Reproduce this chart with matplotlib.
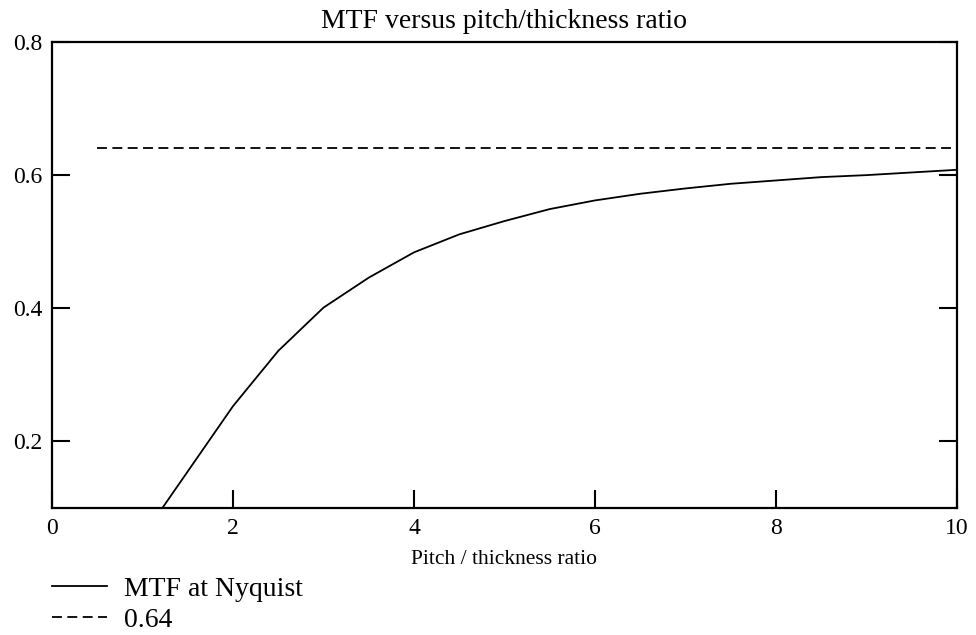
import matplotlib
matplotlib.use("Agg")
import matplotlib.pyplot as plt

plt.rcParams['font.family'] = ['Liberation Serif', 'DejaVu Serif']

# data
ratio = [1.0, 1.5, 2.0, 2.5, 3.0, 3.5, 4.0, 4.5, 5.0, 5.5, 6.0, 6.5, 7.0,
         7.5, 8.0, 8.5, 9.0, 9.5, 10.0]
mtf = [0.057, 0.155, 0.253, 0.336, 0.401, 0.446, 0.484, 0.511, 0.531, 0.549,
       0.562, 0.572, 0.580, 0.587, 0.592, 0.597, 0.600, 0.604, 0.608]
ref_x = [0.5, 10.0]
ref_y = [0.64, 0.64]

fig = plt.figure(figsize=(9.76, 6.35), dpi=100)
ax = fig.add_axes([0.0533, 0.2, 0.9272, 0.7339])

l1, = ax.plot(ratio, mtf, color='black', lw=1.3, label='MTF at Nyquist')
l2, = ax.plot(ref_x, ref_y, color='black', lw=1.3, ls=(0, (5.5, 3)), label='0.64')

ax.set_xlim(0, 10)
ax.set_ylim(0.1, 0.8)
ax.set_xticks([0, 2, 4, 6, 8, 10])
ax.set_yticks([0.2, 0.4, 0.6, 0.8])
ax.set_xticklabels(['0', '2', '4', '6', '8', '10'])
ax.set_yticklabels(['0.2', '0.4', '0.6', '0.8'])
ax.tick_params(direction='in', length=13, width=1.5, labelsize=17,
               right=True, top=False, pad=7)
for s in ax.spines.values():
    s.set_linewidth(1.6)

ax.set_title('MTF versus pitch/thickness ratio', fontsize=20, pad=10)
ax.set_xlabel('Pitch / thickness ratio', fontsize=15.5, labelpad=8)

fig.legend(handles=[l1, l2], loc='upper left', bbox_to_anchor=(0.053, 0.092),
           frameon=False, fontsize=20, handlelength=2.0, handletextpad=0.6,
           labelspacing=0.2, borderaxespad=0.0, borderpad=0.0)

fig.savefig('out.png', dpi=100)
